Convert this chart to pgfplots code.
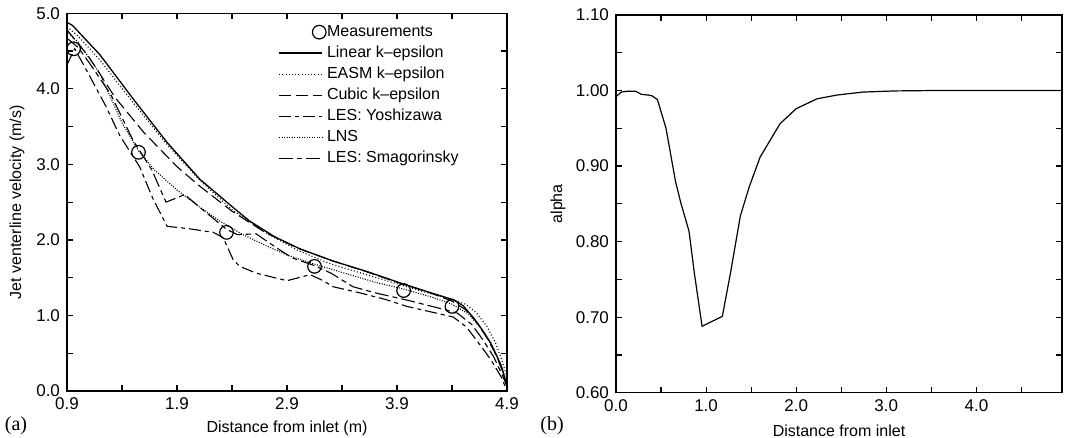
\documentclass[border=0pt]{standalone}
\usepackage{fontspec}
\setmainfont{Liberation Sans}
\newfontfamily\panelfont{Liberation Serif}
\usepackage{pgfplots}
\pgfplotsset{compat=1.18}

\begin{document}
\begin{tikzpicture}
\pgfplotsset{
  panel/.style={
    scale only axis, height=188.85pt,
    axis line style={line width=0.8pt},
    major tick length=3pt, minor tick length=3pt,
    every tick/.style={black, line width=0.6pt},
    tick align=inside,
    tick label style={font=\fontsize{8.5}{10}\selectfont},
    label style={font=\fontsize{8}{9.5}\selectfont},
    /pgf/number format/assume math mode=true,
    /pgf/number format/fixed, /pgf/number format/fixed zerofill,
    xlabel style={at={(axis description cs:0.5,-0.1)}, anchor=center},
  },
  curve/.style={black, line width=0.55pt},
  lineleg/.style={legend image code/.code={\draw[##1] (0pt,0pt) -- (21.5pt,0pt);}},
  measleg/.style={legend image code/.code={\path[draw=none] (0pt,0pt) -- (21.5pt,0pt);
    \draw[##1] plot coordinates {(20pt,0pt)};}},
}

% (a) centreline velocity
\begin{axis}[panel, at={(33.5pt,23.5pt)}, anchor=south west, width=220pt,
  xmin=0.9, xmax=4.9, ymin=0, ymax=5,
  xtick={0.9,1.9,2.9,3.9,4.9}, minor xtick={1.4,2.4,3.4,4.4},
  ytick={0,1,2,3,4,5}, minor ytick={0.5,1.5,2.5,3.5,4.5},
  xticklabel style={/pgf/number format/precision=1},
  yticklabel style={/pgf/number format/precision=1},
  xlabel={Distance from inlet (m)},
  ylabel={Jet venterline velocity (m/s)},
  ylabel style={at={(axis description cs:-0.1136,0.5)}, anchor=center},
  legend cell align=left, lineleg,
  legend style={at={(axis description cs:0.48,0.975)}, anchor=north west,
    draw=none, fill=none, inner sep=0pt, row sep=1.5pt,
    nodes={inner sep=0.5pt, text height=6pt, text depth=2pt},
    font=\fontsize{8}{9.5}\selectfont},
]
\addplot[only marks, mark=o, mark size=3.4pt, mark options={line width=0.6pt, fill=none}, measleg]
  coordinates {(0.96,4.53) (1.55,3.16) (2.35,2.10) (3.15,1.65) (3.96,1.33) (4.40,1.12)};
\addlegendentry{Measurements}

\addplot[curve, line width=0.65pt] coordinates {
  (0.90,4.88) (0.95,4.84) (1.20,4.45) (1.50,3.87) (1.81,3.29) (2.11,2.80)
  (2.41,2.43) (2.56,2.25) (2.79,2.04) (3.02,1.88) (3.32,1.72) (3.63,1.58)
  (3.93,1.43) (4.23,1.29) (4.41,1.21) (4.50,1.13) (4.59,0.98) (4.67,0.82)
  (4.75,0.64) (4.85,0.33) (4.91,0.0)};
\addlegendentry{Linear k--epsilon}

\addplot[curve, dash pattern=on 0.5pt off 1.1pt] coordinates {
  (0.90,4.82) (1.00,4.70) (1.20,4.38) (1.50,3.82) (1.80,3.28) (2.10,2.80)
  (2.40,2.40) (2.70,2.10) (3.00,1.86) (3.30,1.68) (3.60,1.55) (3.90,1.42)
  (4.20,1.29) (4.40,1.21) (4.52,1.15) (4.62,1.04) (4.72,0.85) (4.80,0.62)
  (4.86,0.38) (4.90,0.18) (4.93,0.0)};
\addlegendentry{EASM k--epsilon}

\addplot[curve, dash pattern=on 6pt off 2.5pt] coordinates {
  (0.90,4.78) (1.10,4.42) (1.34,3.88) (1.60,3.42) (1.90,2.97) (2.10,2.72)
  (2.40,2.38) (2.70,2.10) (3.00,1.89) (3.30,1.73) (3.60,1.59) (3.90,1.44)
  (4.20,1.30) (4.40,1.19) (4.52,1.08) (4.62,0.92) (4.72,0.70) (4.80,0.48)
  (4.87,0.22) (4.91,0.0)};
\addlegendentry{Cubic k--epsilon}

\addplot[curve, dash pattern=on 6pt off 2pt on 2pt off 2pt] coordinates {
  (0.90,4.32) (0.97,4.53) (1.05,4.32) (1.15,4.05) (1.25,3.78) (1.38,3.38)
  (1.56,2.97) (1.68,2.55) (1.81,2.18) (2.00,2.15) (2.23,2.10) (2.32,2.03)
  (2.41,1.74) (2.47,1.65) (2.62,1.56) (2.90,1.46) (3.11,1.54) (3.23,1.46)
  (3.32,1.38) (3.56,1.30) (3.80,1.21) (3.99,1.12) (4.20,1.05) (4.41,0.98)
  (4.53,0.85) (4.65,0.62) (4.75,0.42) (4.85,0.18) (4.90,0.0)};
\addlegendentry{LES: Yoshizawa}

\addplot[curve, dash pattern=on 0.5pt off 0.75pt] coordinates {
  (0.90,4.76) (1.00,4.62) (1.20,4.20) (1.40,3.55) (1.55,3.18) (1.70,2.92)
  (1.90,2.66) (2.10,2.44) (2.30,2.24) (2.50,2.07) (2.70,1.93) (2.90,1.80)
  (3.15,1.68) (3.40,1.57) (3.70,1.44) (3.96,1.35) (4.20,1.25) (4.40,1.15)
  (4.55,1.02) (4.68,0.80) (4.78,0.56) (4.86,0.28) (4.92,0.0)};
\addlegendentry{LNS}

\addplot[curve, dash pattern=on 7pt off 2pt on 2.5pt off 2pt] coordinates {
  (0.90,4.67) (1.00,4.55) (1.10,4.35) (1.30,3.92) (1.50,3.32) (1.67,2.93)
  (1.80,2.50) (1.97,2.60) (2.15,2.38) (2.35,2.14) (2.45,2.07) (2.62,2.08)
  (2.80,1.90) (2.95,1.76) (3.15,1.66) (3.30,1.56) (3.50,1.38) (3.70,1.30)
  (4.00,1.20) (4.30,1.09) (4.45,1.03) (4.58,0.88) (4.68,0.68) (4.78,0.45)
  (4.86,0.20) (4.92,0.0)};
\addlegendentry{LES: Smagorinsky}
\end{axis}

% (b) alpha
\begin{axis}[panel, at={(308pt,22.65pt)}, anchor=south west, width=223pt,
  xmin=0, xmax=4.95, ymin=0.6, ymax=1.1,
  xtick={0,1,2,3,4}, minor xtick={0.5,1.5,2.5,3.5,4.5},
  ytick={0.6,0.7,0.8,0.9,1.0,1.1}, minor ytick={0.65,0.75,0.85,0.95,1.05},
  xticklabel style={/pgf/number format/precision=1},
  yticklabel style={/pgf/number format/precision=2},
  xlabel={Distance from inlet},
  ylabel={alpha},
  ylabel style={at={(axis description cs:-0.13,0.5)}, anchor=center},
]
\addplot[curve, line width=0.6pt] coordinates {
  (0.00,0.992) (0.06,0.998) (0.12,0.999) (0.22,0.999) (0.28,0.995) (0.36,0.994)
  (0.40,0.993) (0.46,0.988) (0.555,0.950) (0.66,0.880) (0.72,0.851) (0.81,0.814)
  (0.87,0.758) (0.955,0.688) (1.18,0.701) (1.27,0.758) (1.38,0.834) (1.48,0.873)
  (1.60,0.912) (1.70,0.932) (1.82,0.956) (2.00,0.976) (2.23,0.989) (2.45,0.994)
  (2.74,0.998) (3.10,0.9995) (3.50,1.000) (4.00,1.000) (4.95,1.000)};
\end{axis}

\node[font=\panelfont\fontsize{10}{12}\selectfont] at (8pt,6pt) {(a)};
\node[font=\panelfont\fontsize{10}{12}\selectfont] at (276pt,6pt) {(b)};

\pgfresetboundingbox
\useasboundingbox (0,0) rectangle (532.5pt,219pt);
\end{tikzpicture}
\end{document}
